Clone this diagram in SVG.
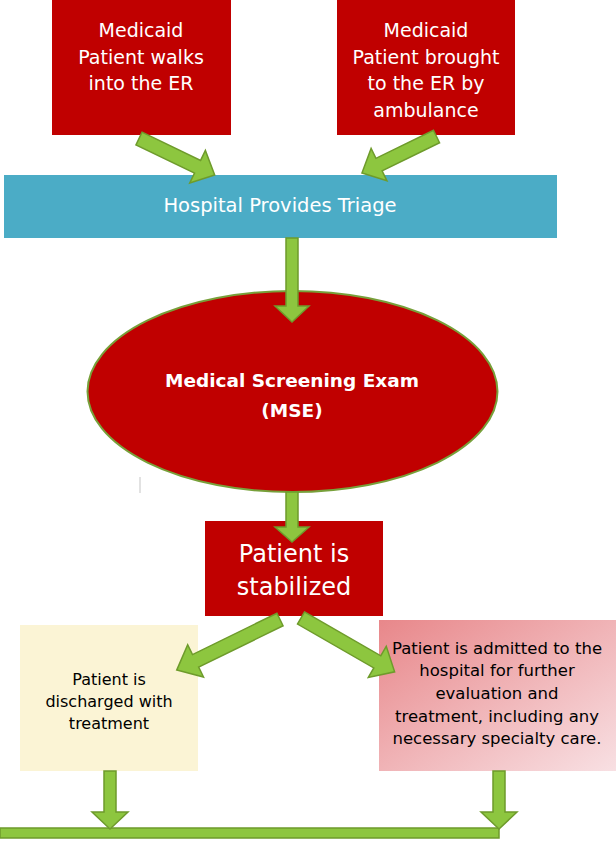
<svg xmlns="http://www.w3.org/2000/svg" width="616" height="866" viewBox="0 0 616 866">
<defs>
<style>
.red{fill:#C00000;}
.wt{fill:#FFFFFF;font-family:"DejaVu Sans",sans-serif;text-anchor:middle;}
.bk{fill:#000000;font-family:"DejaVu Sans",sans-serif;text-anchor:middle;}
.arrow{fill:#8DC63F;stroke:#6E9B2B;stroke-width:1.5;stroke-linejoin:miter;}
</style>
<linearGradient id="pinkGrad" x1="0" y1="0" x2="1" y2="1">
<stop offset="0" stop-color="#E8878A"/>
<stop offset="1" stop-color="#F8E0E3"/>
</linearGradient>
</defs>
<rect width="616" height="866" fill="#FFFFFF"/>

<g id="walks-in">
<rect class="red" x="52" y="0" width="179" height="135"/>
<text class="wt" font-size="19" x="141"><tspan x="141" y="37">Medicaid</tspan><tspan x="141" y="63.5">Patient walks</tspan><tspan x="141" y="90">into the ER</tspan></text>
</g>

<g id="ambulance">
<rect class="red" x="337" y="0" width="178" height="135"/>
<text class="wt" font-size="19" x="426"><tspan x="426" y="37">Medicaid</tspan><tspan x="426" y="63.5">Patient brought</tspan><tspan x="426" y="90">to the ER by</tspan><tspan x="426" y="116.5">ambulance</tspan></text>
</g>

<g id="triage">
<rect x="4" y="175" width="553" height="63" fill="#4BACC6"/>
<text class="wt" font-size="19.5" x="280" y="212">Hospital Provides Triage</text>
</g>

<g id="mse">
<ellipse cx="292.5" cy="391.5" rx="205" ry="100.5" fill="#C00000" stroke="#77A03A" stroke-width="2"/>
<text class="wt" font-size="18.5" font-weight="bold" x="292"><tspan x="292" y="387">Medical Screening Exam</tspan><tspan x="292" y="417">(MSE)</tspan></text>
</g>

<line x1="140" y1="477" x2="140" y2="493" stroke="#D9D9D9" stroke-width="1.5"/>

<g id="stabilized">
<rect class="red" x="205" y="521" width="178" height="95"/>
<text class="wt" font-size="24" x="294"><tspan x="294" y="562">Patient is</tspan><tspan x="294" y="595">stabilized</tspan></text>
</g>

<g id="discharged">
<rect x="20" y="625" width="178" height="146" fill="#FBF4D5"/>
<text class="bk" font-size="16" x="109"><tspan x="109" y="685">Patient is</tspan><tspan x="109" y="707">discharged with</tspan><tspan x="109" y="729">treatment</tspan></text>
</g>

<g id="admitted">
<rect x="379" y="620" width="237" height="151" fill="url(#pinkGrad)"/>
<text class="bk" font-size="16.5" x="497"><tspan x="497" y="654">Patient is admitted to the</tspan><tspan x="497" y="676">hospital for further</tspan><tspan x="497" y="699">evaluation and</tspan><tspan x="497" y="722">treatment, including any</tspan><tspan x="497" y="744">necessary specialty care.</tspan></text>
</g>

<g id="connectors">
<path class="arrow" transform="translate(139,138.5) rotate(25.7)" d="M0,-7 H65 V-18 L84,0 L65,18 V7 H0 Z"/>
<path class="arrow" transform="translate(436.5,136.5) rotate(153.9)" d="M0,-7 H64 V-18 L83,0 L64,18 V7 H0 Z"/>
<path class="arrow" d="M286,238 H298 V306 H309 L292,322 L275,306 H286 Z"/>
<path class="arrow" d="M286,492 H298 V527 H309 L292,542 L275,527 H286 Z"/>
<path class="arrow" transform="translate(280,619.5) rotate(153.9)" d="M0,-7 H94 V-18 L115,0 L94,18 V7 H0 Z"/>
<path class="arrow" transform="translate(301,618) rotate(29.9)" d="M0,-7 H88 V-18 L108,0 L88,18 V7 H0 Z"/>
<path class="arrow" d="M0,828 H499 V838 H0 Z"/>
<path class="arrow" d="M104,771 H116 V812 H128 L110,829 L92,812 H104 Z"/>
<path class="arrow" d="M493,771 H505 V812 H517 L499,829 L481,812 H493 Z"/>
</g>
</svg>
